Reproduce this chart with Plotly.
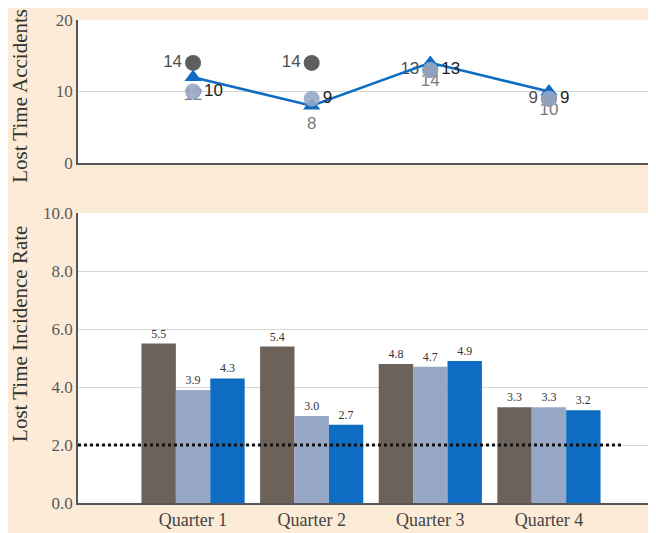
import plotly.graph_objects as go
from plotly.subplots import make_subplots

quarters = ["Quarter 1", "Quarter 2", "Quarter 3", "Quarter 4"]

# Lost time accidents (top panel)
accidents_a = [14, 14, 13, 9]
accidents_b = [10, 9, 13, 9]
accidents_c = [12, 8, 14, 10]

# Lost time incidence rate (bottom panel)
rate_a = [5.5, 5.4, 4.8, 3.3]
rate_b = [3.9, 3.0, 4.7, 3.3]
rate_c = [4.3, 2.7, 4.9, 3.2]
target_rate = 2.0

BG = "#FBEBD7"
BROWN = "#6C625A"
LIGHT = "#97A8C7"
BLUE = "#0E6DC2"
DARK_DOT = "#5E5E5E"
SERIF = "Liberation Serif"
SANS = "Liberation Sans"

fig = make_subplots(rows=2, cols=1, vertical_spacing=0.0)

# top panel: accidents
fig.add_trace(go.Scatter(
    x=quarters, y=accidents_a, mode="markers+text", text=accidents_a,
    textposition="middle left", textfont=dict(family=SANS, size=17, color="#505050"),
    marker=dict(color=DARK_DOT, size=16), cliponaxis=False, showlegend=False,
), row=1, col=1)
fig.add_trace(go.Scatter(
    x=quarters, y=accidents_c, mode="lines+markers+text", text=accidents_c,
    textposition="bottom center", textfont=dict(family=SANS, size=17, color="#7A7A7A"),
    line=dict(color=BLUE, width=2.5),
    marker=dict(color=BLUE, size=15, symbol="triangle-up"), cliponaxis=False, showlegend=False,
), row=1, col=1)
fig.add_trace(go.Scatter(
    x=quarters, y=accidents_b, mode="markers+text", text=accidents_b,
    textposition="middle right", textfont=dict(family=SANS, size=17, color="#1E1E1E"),
    marker=dict(color=LIGHT, size=16, opacity=0.9), cliponaxis=False, showlegend=False,
), row=1, col=1)

# bottom panel: incidence rate
for vals, color in [(rate_a, BROWN), (rate_b, LIGHT), (rate_c, BLUE)]:
    fig.add_trace(go.Bar(
        x=quarters, y=vals, marker=dict(color=color, line=dict(width=0)),
        text=[f"{v:.1f}" for v in vals], textposition="outside",
        textfont=dict(family=SERIF, size=12, color="#333333"),
        cliponaxis=False, showlegend=False,
    ), row=2, col=1)

# target line, dotted
fig.add_shape(type="line", xref="x2", yref="y2", x0=-0.97, x1=3.62,
              y0=target_rate, y1=target_rate,
              line=dict(color="#111111", width=3, dash="dot"))

xrange = [-0.97, 3.97]
fig.update_xaxes(range=xrange, showgrid=False, showline=True, linecolor="#555555",
                 linewidth=1.5, ticks="", tickfont=dict(family=SERIF, size=18, color="#444444"))
fig.update_xaxes(showticklabels=False, row=1, col=1)

fig.update_yaxes(range=[0, 20], tickvals=[0, 10, 20], row=1, col=1)
fig.update_yaxes(range=[0, 10], tickvals=[0, 2, 4, 6, 8, 10], tickformat=".1f", row=2, col=1)
fig.update_yaxes(showgrid=True, gridcolor="#D6D6D6", gridwidth=1, zeroline=False,
                 showline=True, linecolor="#555555", linewidth=1.5, ticks="",
                 tickfont=dict(family=SERIF, size=17, color="#5A5A5A"))

# axis titles as annotations so they sit where the reference has them
for text, ypos in [("Lost Time Accidents", 0.843), ("Lost Time Incidence Rate", 0.35)]:
    fig.add_annotation(text=text, xref="paper", yref="paper", x=0, y=ypos,
                       xanchor="center", yanchor="middle", xshift=-58, textangle=-90,
                       showarrow=False, font=dict(family=SERIF, size=21, color="#333333"))

fig.update_layout(
    width=656, height=533,
    margin=dict(l=70, r=0, t=12, b=38),
    paper_bgcolor=BG, plot_bgcolor="#FFFFFF",
    barmode="group", bargap=0.13, bargroupgap=0,
    yaxis=dict(domain=[0.704, 1.0]),
    yaxis2=dict(domain=[0.0, 0.600]),
)

fig.write_html("out.html")
